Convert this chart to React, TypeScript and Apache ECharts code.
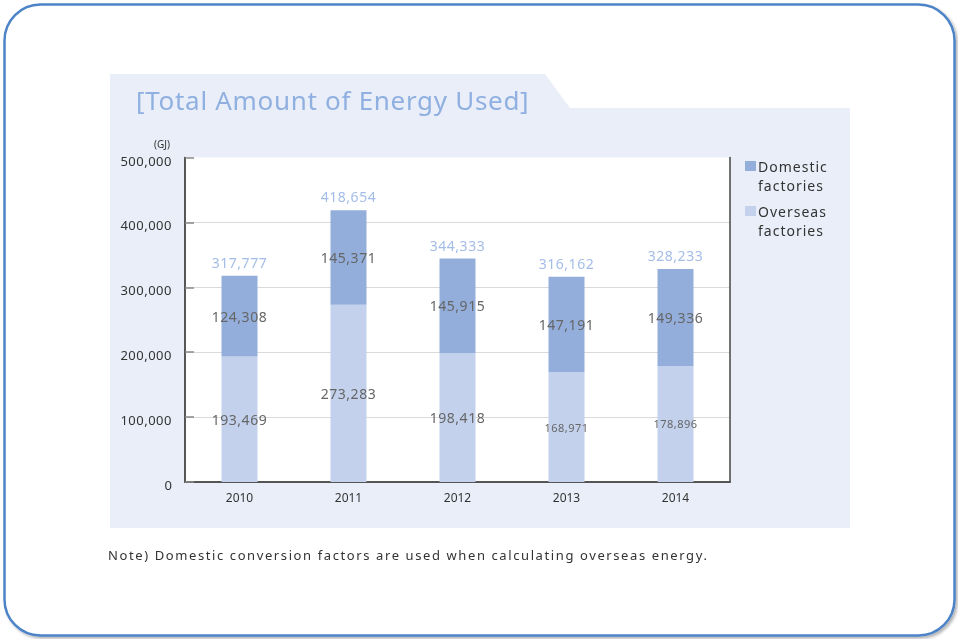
import React, { useEffect, useRef } from "react";
import * as echarts from "echarts";

const categories = ["2010", "2011", "2012", "2013", "2014"];
const overseas = [193469, 273283, 198418, 168971, 178896];
const domestic = [124308, 145371, 145915, 147191, 149336];
const totals = [317777, 418654, 344333, 316162, 328233];
const seriesNames = ["Domestic factories", "Overseas factories"];
const yMin = 0;
const yMax = 500000;
const yInterval = 100000;
const titleText = "[Total Amount of Energy Used]";
const unitText = "(GJ)";
const noteText = "Note) Domestic conversion factors are used when calculating overseas energy.";

const FONT = '"Noto Sans", "DejaVu Sans", sans-serif';
const DOM_COLOR = "#93aedb";
const OVS_COLOR = "#c3d1ec";
const TOTAL_COLOR = "#8cade2";

const fmt = (v: number) => v.toLocaleString("en-US");

function applyTracking(root: HTMLElement | null) {
  if (!root) return;
  const legendWords = new Set(["Domestic", "Overseas", "factories"]);
  root.querySelectorAll("text").forEach((t) => {
    const s = (t.textContent || "").trim();
    let ls = "";
    if (s === noteText) ls = "1.6px";
    else if (s === titleText) ls = "0.7px";
    else if (legendWords.has(s)) ls = "1px";
    else if (/^[\d,]+$/.test(s) && s.length > 4) ls = "0.5px";
    if (ls) t.setAttribute("letter-spacing", ls);
  });
}

export default function App() {
  const ref = useRef<HTMLDivElement>(null);
  useEffect(() => {
    if (!ref.current) return;
    const chart = echarts.init(ref.current, undefined, { renderer: "svg" });
    const legendColors = [DOM_COLOR, OVS_COLOR];
    const legendGraphics: any[] = [];
    seriesNames.forEach((name, i) => {
      const y0 = 161 + i * 45;
      legendGraphics.push({
        type: "rect",
        shape: { x: 745, y: y0, width: 11, height: 10 },
        style: { fill: legendColors[i] },
        z: 10,
      });
      legendGraphics.push({
        type: "text",
        x: 758,
        y: y0 - 4.5,
        style: {
          text: name.replace(" ", "\n"),
          font: `14px ${FONT}`,
          fill: "#333",
          lineHeight: 19,
          align: "left",
          verticalAlign: "top",
          textAlign: "left",
          textVerticalAlign: "top",
        },
        z: 10,
      });
    });

    const option: any = {
      animation: false,
      textStyle: { fontFamily: FONT },
      graphic: [
        {
          type: "rect",
          z: -20,
          shape: { x: 4.5, y: 4.5, width: 950, height: 631, r: 36 },
          style: {
            fill: "#fff",
            stroke: "#4d84c8",
            lineWidth: 2.5,
            shadowBlur: 3,
            shadowOffsetX: 2,
            shadowOffsetY: 2,
            shadowColor: "rgba(0,0,0,0.3)",
          },
        },
        {
          type: "polygon",
          z: -19,
          shape: {
            points: [
              [110, 74],
              [545, 74],
              [570, 108],
              [850, 108],
              [850, 528],
              [110, 528],
            ],
          },
          style: { fill: "#e9eef8" },
        },
        {
          type: "text",
          x: 136,
          y: 100,
          z: 10,
          style: {
            text: titleText,
            font: `26px ${FONT}`,
            fill: "#8fb0e0",
            align: "left",
            verticalAlign: "middle",
            textAlign: "left",
            textVerticalAlign: "middle",
          },
        },
        {
          type: "text",
          x: 170,
          y: 144,
          z: 10,
          style: {
            text: unitText,
            font: `10px ${FONT}`,
            fill: "#333",
            align: "right",
            verticalAlign: "middle",
            textAlign: "right",
            textVerticalAlign: "middle",
          },
        },
        {
          type: "text",
          x: 108,
          y: 555,
          z: 10,
          style: {
            text: noteText,
            font: `13px ${FONT}`,
            fill: "#333",
            align: "left",
            verticalAlign: "middle",
            textAlign: "left",
            textVerticalAlign: "middle",
          },
        },
        ...legendGraphics,
      ],
      grid: {
        left: 185,
        top: 157.5,
        width: 545,
        height: 324.5,
        show: true,
        backgroundColor: "#fff",
        borderWidth: 0,
      },
      xAxis: {
        type: "category",
        data: categories,
        axisLine: { lineStyle: { color: "#555", width: 2 } },
        axisTick: { inside: true, length: 6, lineStyle: { color: "#333", width: 1 } },
        axisLabel: { color: "#333", fontSize: 12, margin: 9, fontFamily: FONT },
      },
      yAxis: [
        {
          type: "value",
          min: yMin,
          max: yMax,
          interval: yInterval,
          axisLine: { show: true, lineStyle: { color: "#222", width: 1.5 } },
          axisTick: { show: true, inside: true, length: 9, lineStyle: { color: "#888", width: 1.5 } },
          axisLabel: {
            color: "#333",
            fontSize: 13,
            margin: 13,
            fontFamily: FONT,
            verticalAlign: "top",
            lineHeight: 6,
            formatter: (v: number) => fmt(v),
          },
          splitLine: {
            show: true,
            lineStyle: { color: ["#dadada", "#dadada", "#dadada", "#dadada", "#dadada", "rgba(0,0,0,0)"], width: 1 },
          },
        },
        {
          type: "value",
          position: "right",
          min: yMin,
          max: yMax,
          interval: yInterval,
          axisLine: { show: true, lineStyle: { color: "#444", width: 1.5 } },
          axisTick: { show: false },
          axisLabel: { show: false },
          splitLine: { show: false },
        },
      ],
      series: [
        {
          name: seriesNames[1],
          type: "bar",
          stack: "total",
          barWidth: 36,
          data: overseas.map((v, i) => (i >= 3 ? { value: v, label: { fontSize: 11 } } : v)),
          itemStyle: { color: OVS_COLOR },
          label: {
            show: true,
            position: "inside",
            color: "#666",
            fontSize: 14,
            fontFamily: FONT,
            formatter: (p: any) => fmt(p.value),
          },
        },
        {
          name: seriesNames[0],
          type: "bar",
          stack: "total",
          barWidth: 36,
          data: domestic,
          itemStyle: { color: DOM_COLOR },
          label: {
            show: true,
            position: "inside",
            color: "#666",
            fontSize: 14,
            fontFamily: FONT,
            formatter: (p: any) => fmt(p.value),
          },
        },
        {
          name: "Total",
          type: "scatter",
          data: totals,
          symbolSize: 1,
          itemStyle: { color: "rgba(0,0,0,0)" },
          silent: true,
          label: {
            show: true,
            position: "top",
            distance: 6,
            color: TOTAL_COLOR,
            fontSize: 14,
            fontFamily: FONT,
            formatter: (p: any) => fmt(p.value),
          },
        },
      ],
    };
    chart.setOption(option);
    applyTracking(ref.current);
    const onFinished = () => applyTracking(ref.current);
    chart.on("finished", onFinished);
    chart.on("rendered", onFinished);
    return () => chart.dispose();
  }, []);
  return (
    <div
      ref={ref}
      style={{ position: "fixed", left: 0, top: 0, width: 958, height: 639 }}
    />
  );
}
